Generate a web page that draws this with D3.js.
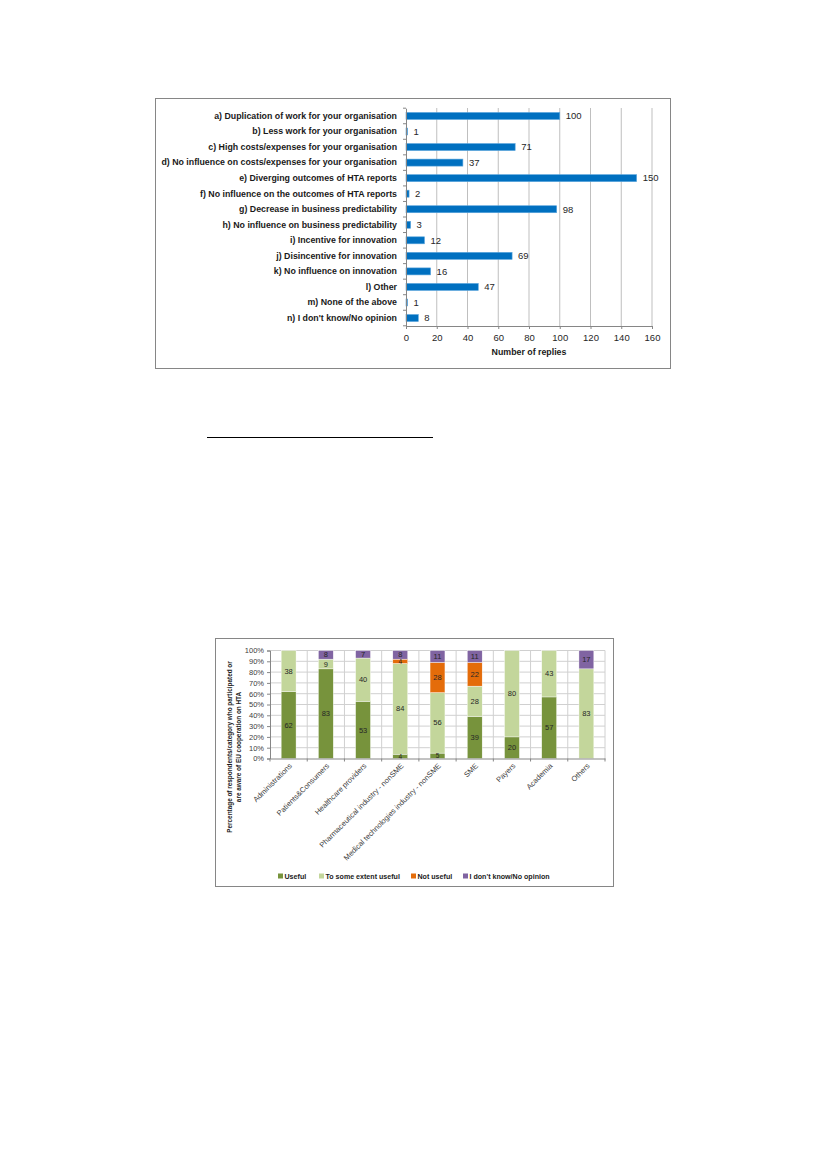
<!DOCTYPE html>
<html>
<head>
<meta charset="utf-8">
<script src="https://cdn.jsdelivr.net/npm/d3@7"></script>
<style>
  html, body { margin: 0; padding: 0; background: #fff; }
  svg { display: block; }
</style>
</head>
<body>
<svg id="page" width="827" height="1169"></svg>
<script>
// ---- data: chart 1 (effects, number of replies) ----
const effects = [
  'a) Duplication of work for your organisation',
  'b) Less work for your organisation',
  'c) High costs/expenses for your organisation',
  'd) No influence on costs/expenses for your organisation',
  'e) Diverging outcomes of HTA reports',
  'f) No influence on the outcomes of HTA reports',
  'g) Decrease in business predictability',
  'h) No influence on business predictability',
  'i) Incentive for innovation',
  'j) Disincentive for innovation',
  'k) No influence on innovation',
  'l) Other',
  'm) None of the above',
  "n) I don't know/No opinion"
];
const replies = [100, 1, 71, 37, 150, 2, 98, 3, 12, 69, 16, 47, 1, 8];
const replyTicks = [0, 20, 40, 60, 80, 100, 120, 140, 160];

// ---- data: chart 2 (usefulness by category, %) ----
const groups = ['Administrations', 'Patients&Consumers', 'Healthcare providers',
  'Pharmaceutical industry - nonSME', 'Medical technologies industry - nonSME',
  'SME', 'Payers', 'Academia', 'Others'];
const useful = [62, 83, 53, 4, 5, 39, 20, 57, 0];
const someUseful = [38, 9, 40, 84, 56, 28, 80, 43, 83];
const notUseful = [0, 0, 0, 4, 28, 22, 0, 0, 0];
const noOpinion = [0, 8, 7, 8, 11, 11, 0, 0, 17];
const seriesNames = ['Useful', 'To some extent useful', 'Not useful', "I don't know/No opinion"];
const pctTicks = [0, 10, 20, 30, 40, 50, 60, 70, 80, 90, 100];

const svg = d3.select('#page');
const FONT = "'Liberation Sans', Arial, sans-serif";

// ================= Chart 1 =================
const c1 = svg.append('g').attr('id', 'chart1');

c1.append('rect')
  .attr('x', 155.5).attr('y', 98.5)
  .attr('width', 515).attr('height', 270)
  .attr('fill', 'none').attr('stroke', '#868686').attr('stroke-width', 1);

const x1 = d3.scaleLinear().domain([0, 160]).range([406, 652]);
const y1 = d3.scaleBand().domain(effects).range([108.2, 325.8]).paddingInner(0.55).paddingOuter(0.275);

// gridlines
c1.append('g')
  .selectAll('line')
  .data(replyTicks.slice(1))
  .join('line')
  .attr('x1', d => x1(d)).attr('x2', d => x1(d))
  .attr('y1', 108).attr('y2', 326)
  .attr('stroke', '#bfbfbf').attr('stroke-width', 1);

// bars
c1.append('g')
  .selectAll('rect')
  .data(replies)
  .join('rect')
  .attr('x', x1(0))
  .attr('y', (_d, i) => y1(effects[i]))
  .attr('width', d => x1(d) - x1(0))
  .attr('height', y1.bandwidth())
  .attr('fill', '#0070c0')
  .attr('stroke', '#5aa5dc').attr('stroke-width', 0.6);

// value labels
c1.append('g')
  .selectAll('text')
  .data(replies)
  .join('text')
  .text(d => d)
  .attr('x', d => x1(d) + 6)
  .attr('y', (_d, i) => y1(effects[i]) + y1.bandwidth() / 2)
  .attr('dy', '0.35em')
  .style('font-family', FONT)
  .style('font-size', '9.5px')
  .style('fill', '#262626');

// y axis
const yAxis1 = c1.append('g')
  .attr('transform', `translate(${x1(0)},0)`)
  .call(d3.axisLeft(y1).tickSize(0).tickPadding(9));
yAxis1.select('.domain').attr('stroke', '#868686');
yAxis1.selectAll('text')
  .style('font-family', FONT)
  .style('font-weight', 'bold')
  .style('font-size', '8.8px')
  .style('fill', '#1a1a1a');
// category boundary tick marks
const step1 = y1.step();
c1.append('g')
  .selectAll('line')
  .data(d3.range(effects.length + 1))
  .join('line')
  .attr('x1', x1(0) - 3).attr('x2', x1(0))
  .attr('y1', i => 108.2 + i * step1).attr('y2', i => 108.2 + i * step1)
  .attr('stroke', '#868686');

// x axis
const xAxis1 = c1.append('g')
  .attr('transform', 'translate(0,326)')
  .call(d3.axisBottom(x1).tickValues(replyTicks).tickSize(3).tickSizeOuter(0).tickPadding(5));
xAxis1.selectAll('line, .domain').attr('stroke', '#868686');
xAxis1.selectAll('text')
  .style('font-family', FONT)
  .style('font-size', '9.5px')
  .style('fill', '#262626');

c1.append('text')
  .text('Number of replies')
  .attr('x', x1(80)).attr('y', 355)
  .attr('text-anchor', 'middle')
  .style('font-family', FONT)
  .style('font-weight', 'bold')
  .style('font-size', '8.8px')
  .style('fill', '#1a1a1a');

// footnote separator line
svg.append('line')
  .attr('x1', 207).attr('x2', 433)
  .attr('y1', 437.5).attr('y2', 437.5)
  .attr('stroke', '#000').attr('stroke-width', 1);

// ================= Chart 2 =================
const c2 = svg.append('g').attr('id', 'chart2');

c2.append('rect')
  .attr('x', 215.5).attr('y', 638.5)
  .attr('width', 398).attr('height', 248)
  .attr('fill', 'none').attr('stroke', '#868686').attr('stroke-width', 1);

const x2 = d3.scaleBand().domain(groups).range([270, 605]).paddingInner(0.6).paddingOuter(0.3);
const y2 = d3.scaleLinear().domain([0, 100]).range([758.5, 650.5]);
const colour = d3.scaleOrdinal().domain(seriesNames)
  .range(['#77933c', '#c3d69b', '#e46c0a', '#8064a2']);

// horizontal gridlines
c2.append('g')
  .selectAll('line')
  .data(pctTicks.slice(1))
  .join('line')
  .attr('x1', 270).attr('x2', 605)
  .attr('y1', d => y2(d)).attr('y2', d => y2(d))
  .attr('stroke', '#d0d0d0');

// vertical gridlines between categories
const step2 = x2.step();
c2.append('g')
  .selectAll('line')
  .data(d3.range(1, groups.length + 1))
  .join('line')
  .attr('x1', i => 270 + i * step2).attr('x2', i => 270 + i * step2)
  .attr('y1', y2(100)).attr('y2', y2(0))
  .attr('stroke', '#d0d0d0');

const rows = groups.map((g, i) => ({
  group: g,
  'Useful': useful[i],
  'To some extent useful': someUseful[i],
  'Not useful': notUseful[i],
  "I don't know/No opinion": noOpinion[i]
}));
const stacked = d3.stack().keys(seriesNames)(rows);

const layers = c2.append('g')
  .selectAll('g')
  .data(stacked)
  .join('g')
  .attr('fill', d => colour(d.key));

layers.selectAll('rect')
  .data(d => d.filter(s => s[1] - s[0] > 0))
  .join('rect')
  .attr('x', d => x2(d.data.group))
  .attr('width', x2.bandwidth())
  .attr('y', d => y2(d[1]))
  .attr('height', d => y2(d[0]) - y2(d[1]))
  .attr('stroke', '#fff').attr('stroke-width', 0.4);

// segment labels drawn on top of all segments
c2.append('g')
  .selectAll('text')
  .data(stacked.flatMap(layer => layer.filter(s => s[1] - s[0] > 0)))
  .join('text')
  .text(d => d[1] - d[0])
  .attr('x', d => x2(d.data.group) + x2.bandwidth() / 2)
  .attr('y', d => (y2(d[0]) + y2(d[1])) / 2)
  .attr('dy', '0.35em')
  .attr('text-anchor', 'middle')
  .style('font-family', FONT)
  .style('font-size', d => (d[1] - d[0] < 6 ? '6.5px' : '7.5px'))
  .style('fill', '#262626');

// y axis
const yAxis2 = c2.append('g')
  .attr('transform', 'translate(270,0)')
  .call(d3.axisLeft(y2).tickValues(pctTicks).tickFormat(d => d + '%').tickSize(3).tickPadding(3));
yAxis2.selectAll('line, .domain').attr('stroke', '#868686');
yAxis2.selectAll('text')
  .style('font-family', FONT)
  .style('font-size', '7.5px')
  .style('fill', '#404040');

// x axis
const xAxis2 = c2.append('g')
  .attr('transform', `translate(0,${y2(0)})`)
  .call(d3.axisBottom(x2).tickSize(0).tickSizeOuter(0));
xAxis2.select('.domain').attr('stroke', '#868686');
xAxis2.selectAll('text')
  .attr('text-anchor', 'end')
  .attr('transform', 'translate(2,6) rotate(-45)')
  .attr('dy', '0.35em').attr('y', 0).attr('x', 0)
  .style('font-family', FONT)
  .style('font-size', '7.5px')
  .style('fill', '#404040');
// boundary ticks on category axis
c2.append('g')
  .selectAll('line')
  .data(d3.range(0, groups.length + 1))
  .join('line')
  .attr('x1', i => 270 + i * step2).attr('x2', i => 270 + i * step2)
  .attr('y1', y2(0)).attr('y2', y2(0) + 3)
  .attr('stroke', '#868686');

// y axis title
const yTitle = c2.append('text')
  .attr('transform', 'translate(233,747) rotate(-90)')
  .attr('text-anchor', 'middle')
  .style('font-family', FONT)
  .style('font-weight', 'bold')
  .style('font-size', '6.4px')
  .style('fill', '#1a1a1a');
yTitle.append('tspan').attr('x', 0).attr('dy', '-0.2em')
  .text('Percentage of respondents/category who participated or');
yTitle.append('tspan').attr('x', 0).attr('dy', '1.4em')
  .text('are aware of EU cooperation on HTA');

// legend
const legendX = [278, 319, 411, 463];
const legend = c2.append('g')
  .selectAll('g')
  .data(seriesNames)
  .join('g')
  .attr('transform', (_d, i) => `translate(${legendX[i]},876)`);
legend.append('rect')
  .attr('x', 0).attr('y', -2.5).attr('width', 5).attr('height', 5)
  .attr('fill', d => colour(d));
legend.append('text')
  .text(d => d)
  .attr('x', 6.5).attr('y', 0).attr('dy', '0.35em')
  .style('font-family', FONT)
  .style('font-weight', 'bold')
  .style('font-size', '7.1px')
  .style('fill', '#1a1a1a');
</script>
</body>
</html>
